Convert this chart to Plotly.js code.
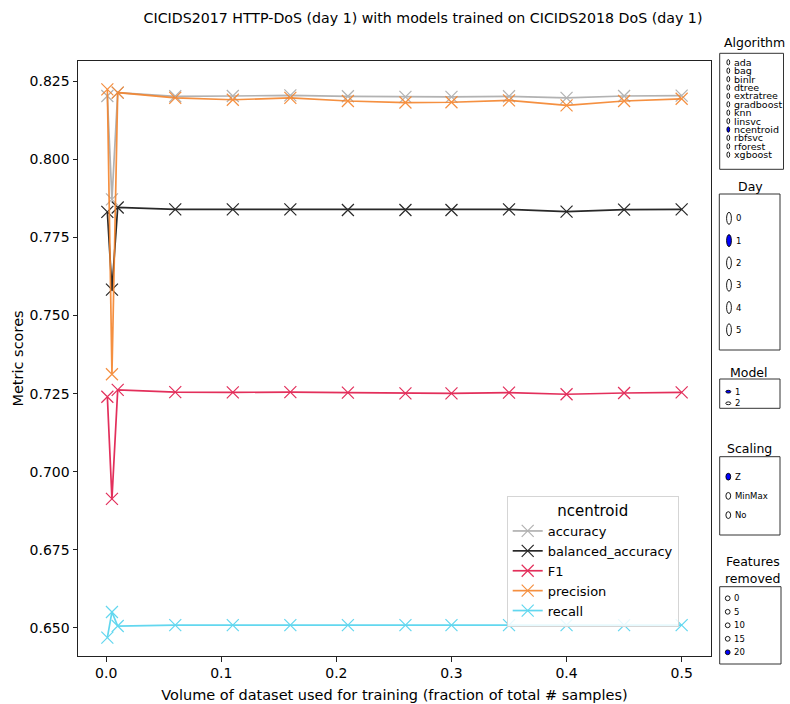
<!DOCTYPE html>
<html>
<head>
<meta charset="utf-8">
<script src="https://cdn.plot.ly/plotly-3.0.1.min.js"></script>
<style>
  html, body { margin: 0; padding: 0; background: #fff; }
  #chart { width: 790px; height: 704px; }
</style>
</head>
<body>
<div id="chart"></div>
<script>
// Fraction of the training set used, and the metric scores obtained at each size
const trainFraction = [0.001, 0.005, 0.01, 0.06, 0.11, 0.16, 0.21, 0.26, 0.3, 0.35, 0.4, 0.45, 0.5];
const accuracy = [0.8203, 0.7872, 0.8214, 0.8202, 0.8203, 0.8205, 0.8202, 0.8200, 0.8200, 0.8202, 0.8197, 0.8203, 0.8204];
const balancedAccuracy = [0.7832, 0.7583, 0.7846, 0.7840, 0.7840, 0.7840, 0.7838, 0.7838, 0.7838, 0.7840, 0.7833, 0.7839, 0.7840];
const f1 = [0.7240, 0.6913, 0.7262, 0.7255, 0.7254, 0.7255, 0.7253, 0.7251, 0.7251, 0.7253, 0.7248, 0.7252, 0.7254];
const precision = [0.8224, 0.7312, 0.8214, 0.8197, 0.8191, 0.8197, 0.8187, 0.8182, 0.8183, 0.8189, 0.8173, 0.8187, 0.8194];
const recall = [0.6469, 0.6551, 0.6506, 0.6509, 0.6509, 0.6509, 0.6509, 0.6509, 0.6509, 0.6509, 0.6509, 0.6509, 0.6509];

const metricNames = ["accuracy", "balanced_accuracy", "F1", "precision", "recall"];
const metricSeries = [accuracy, balancedAccuracy, f1, precision, recall];
const metricColors = ["#aaaaaa", "#111111", "#e0194a", "#f5842c", "#52d3ee"];

const xTicks = [0, 0.1, 0.2, 0.3, 0.4, 0.5];
const yTicks = [0.650, 0.675, 0.700, 0.725, 0.750, 0.775, 0.800, 0.825];

// Selector panels shown beside the plot
const algorithms = ["ada", "bag", "binlr", "dtree", "extratree", "gradboost", "knn", "linsvc", "ncentroid", "rbfsvc", "rforest", "xgboost"];
const days = ["0", "1", "2", "3", "4", "5"];
const models = ["1", "2"];
const scalings = ["Z", "MinMax", "No"];
const featuresRemoved = ["0", "5", "10", "15", "20"];

const FONT = "DejaVu Sans, Liberation Sans, sans-serif";

// plot-area pixel box, used to place panel elements in paper coordinates
const PL = 78, PR = 711, PT = 61, PB = 656;
const px = x => (x - PL) / (PR - PL);
const py = y => (PB - y) / (PB - PT);

const traces = metricNames.map((name, i) => ({
  type: "scatter",
  mode: "lines+markers",
  name: name,
  x: trainFraction,
  y: metricSeries[i],
  line: { color: metricColors[i], width: 1.7 },
  marker: { symbol: "x-thin", size: 12, color: metricColors[i], line: { color: metricColors[i], width: 1.2 } },
  opacity: 0.9
}));

const shapes = [];
const annotations = [];

function radioPanel(p) {
  p.titles.forEach(t => annotations.push({
    xref: "paper", yref: "paper", x: px(p.titleX), y: py(t.y),
    xanchor: "center", yanchor: "middle", showarrow: false,
    text: t.text, font: { family: FONT, size: 12.5, color: "#000" }
  }));
  shapes.push({
    type: "rect", xref: "paper", yref: "paper",
    x0: px(p.box[0]), x1: px(p.box[2]), y0: py(p.box[1]), y1: py(p.box[3]),
    line: { color: "#333", width: 1 }, fillcolor: "rgba(0,0,0,0)"
  });
  p.labels.forEach((lab, i) => {
    const cy = p.firstY + i * p.step;
    const on = i === p.active;
    shapes.push({
      type: "circle", xref: "paper", yref: "paper",
      x0: px(p.cx - p.rw), x1: px(p.cx + p.rw), y0: py(cy + p.rh), y1: py(cy - p.rh),
      line: { color: "#000", width: 0.9 }, fillcolor: on ? "#0000ff" : "#ffffff"
    });
    annotations.push({
      xref: "paper", yref: "paper", x: px(p.textX), y: py(cy),
      xanchor: "left", yanchor: "middle", showarrow: false,
      text: lab, font: { family: FONT, size: p.fontSize, color: "#000" }
    });
  });
}

radioPanel({ titles: [{ text: "Algorithm", y: 42.7 }], titleX: 754,
  box: [719.7, 53.3, 783.5, 169.3], labels: algorithms, firstY: 62.3, step: 8.4,
  cx: 728.3, rw: 1.4, rh: 2.7, textX: 731.5, fontSize: 9.5, active: 8 });
radioPanel({ titles: [{ text: "Day", y: 186.7 }], titleX: 750,
  box: [719.3, 194, 780, 350], labels: days, firstY: 218.3, step: 22.3,
  cx: 729, rw: 2.4, rh: 6, textX: 733.5, fontSize: 8.5, active: 1 });
radioPanel({ titles: [{ text: "Model", y: 372.7 }], titleX: 748.5,
  box: [719.7, 379, 780, 408.3], labels: models, firstY: 391.7, step: 11.6,
  cx: 728.3, rw: 2.5, rh: 1.4, textX: 732.5, fontSize: 8.5, active: 0 });
radioPanel({ titles: [{ text: "Scaling", y: 448.3 }], titleX: 749,
  box: [719.7, 456.7, 780, 535], labels: scalings, firstY: 476.7, step: 19.2,
  cx: 728.3, rw: 2.4, rh: 3.4, textX: 732.5, fontSize: 8.5, active: 0 });
radioPanel({ titles: [{ text: "Features", y: 561.7 }, { text: "removed", y: 578.3 }], titleX: 752.5,
  box: [719.7, 586.7, 781, 664], labels: featuresRemoved, firstY: 598.3, step: 13.5,
  cx: 727.7, rw: 2.4, rh: 2.4, textX: 731.5, fontSize: 8.5, active: 4 });

const layout = {
  width: 790, height: 704, autosize: false,
  margin: { l: PL, r: 790 - PR, t: PT, b: 704 - PB, pad: 0 },
  paper_bgcolor: "#ffffff", plot_bgcolor: "#ffffff",
  font: { family: FONT, size: 14, color: "#000" },
  title: {
    text: "CICIDS2017 HTTP-DoS (day 1) with models trained on CICIDS2018 DoS (day 1)",
    font: { family: FONT, size: 14.2, color: "#000" },
    xref: "container", yref: "container", x: 423 / 790, y: 1 - 18 / 704,
    xanchor: "center", yanchor: "middle"
  },
  xaxis: {
    range: [-0.0245, 0.5255], tickvals: xTicks, tickformat: ".1f",
    ticks: "outside", ticklen: 4.5, tickwidth: 1, tickcolor: "#222",
    showline: true, mirror: true, linecolor: "#222", linewidth: 1,
    showgrid: false, zeroline: false,
    tickfont: { family: FONT, size: 14, color: "#000" },
    title: { text: "Volume of dataset used for training (fraction of total # samples)",
      font: { family: FONT, size: 14.5, color: "#000" }, standoff: 9 }
  },
  yaxis: {
    range: [0.641, 0.8315], tickvals: yTicks, tickformat: ".3f",
    ticks: "outside", ticklen: 4.5, tickwidth: 1, tickcolor: "#222",
    showline: true, mirror: true, linecolor: "#222", linewidth: 1,
    showgrid: false, zeroline: false,
    tickfont: { family: FONT, size: 14, color: "#000" },
    title: { text: "Metric scores", font: { family: FONT, size: 14.5, color: "#000" }, standoff: 2 }
  },
  legend: {
    x: px(506.7), y: py(495.5), xanchor: "left", yanchor: "top",
    bgcolor: "rgba(255,255,255,0.85)", bordercolor: "#d5d5d5", borderwidth: 1,
    font: { family: FONT, size: 13, color: "#000" },
    title: { text: "ncentroid", side: "top center", font: { family: FONT, size: 15, color: "#000" } },
    itemwidth: 30
  },
  showlegend: true,
  shapes: shapes,
  annotations: annotations
};

Plotly.newPlot("chart", traces, layout, { displayModeBar: false, staticPlot: true });
</script>
</body>
</html>
